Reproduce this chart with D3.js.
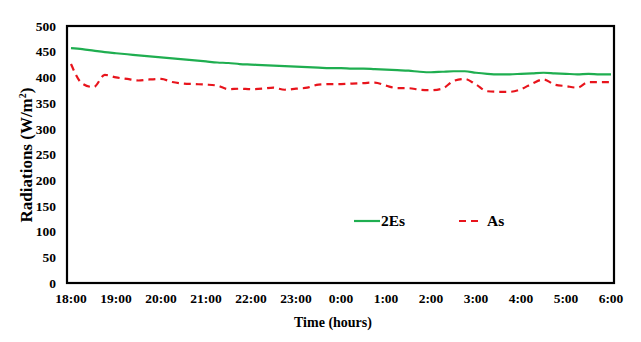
<!DOCTYPE html>
<html>
<head>
<meta charset="utf-8">
<script src="https://cdn.jsdelivr.net/npm/d3@7"></script>
<style>
  html, body { margin: 0; padding: 0; background: #fff; }
  svg { display: block; }
  text { font-family: "Liberation Serif", "Times New Roman", serif; font-weight: bold; fill: #000; }
</style>
</head>
<body>
<svg id="chart" width="641" height="342"></svg>
<script>
// Time in hours after 18:00 (15-minute steps)
const hours = [0,0.25,0.5,0.75,1,1.25,1.5,1.75,2,2.25,2.5,2.75,3,3.25,3.5,3.75,4,4.25,4.5,4.75,5,5.25,5.5,5.75,6,6.25,6.5,6.75,7,7.25,7.5,7.75,8,8.25,8.5,8.75,9,9.25,9.5,9.75,10,10.25,10.5,10.75,11,11.25,11.5,11.75,12];
const es2 = [457,455,452,449,447,445,443,441,439,437,435,433,431,429,428,426,425,424,423,422,421,420,419,418,418,417,417,416,415,414,413,411,410,411,412,412,409,407,406,406,407,408,409,408,407,406,407,406,406];
const as = [426,388,381,405,400,397,394,396,397,391,388,387,386,384,377,378,377,378,380,376,378,380,386,387,387,388,389,390,384,379,379,376,375,378,393,397,386,373,372,372,377,388,396,386,383,380,391,391,391];
const xTickLabels = ["18:00","19:00","20:00","21:00","22:00","23:00","0:00","1:00","2:00","3:00","4:00","5:00","6:00"];
const yTicks = [0,50,100,150,200,250,300,350,400,450,500];
const seriesNames = ["2Es","As"];

const svg = d3.select("#chart");
const plot = {left: 67, right: 614, top: 26, bottom: 283};

const x = d3.scaleLinear().domain([0, 12]).range([71, 611]);
const y = d3.scaleLinear().domain([0, 500]).range([plot.bottom, plot.top]);

// frame
svg.append("rect")
  .attr("x", plot.left).attr("y", plot.top)
  .attr("width", plot.right - plot.left).attr("height", plot.bottom - plot.top)
  .attr("fill", "none").attr("stroke", "#000").attr("stroke-width", 2.2);

// y axis labels
svg.append("g").selectAll("text").data(yTicks).join("text")
  .attr("x", 56).attr("y", d => y(d)).attr("dy", "0.35em")
  .attr("text-anchor", "end").style("font-size", "13.5px")
  .text(d => d);

// x axis labels
svg.append("g").selectAll("text").data(xTickLabels).join("text")
  .attr("x", (d, i) => x(i)).attr("y", 303)
  .attr("text-anchor", "middle").style("font-size", "13.5px")
  .text(d => d);

// axis titles
svg.append("text").attr("x", 333).attr("y", 327)
  .attr("text-anchor", "middle").style("font-size", "14px")
  .text("Time (hours)");
svg.append("text")
  .attr("transform", "translate(32,155) rotate(-90)")
  .attr("text-anchor", "middle").style("font-size", "17px")
  .html('Radiations (W/m<tspan dy="-6" style="font-size:10px">2</tspan><tspan dy="6">)</tspan>');

const line = d3.line().x((d, i) => x(hours[i])).y(d => y(d)).curve(d3.curveMonotoneX);

svg.append("path").datum(es2).attr("d", line)
  .attr("fill", "none").attr("stroke", "#1fae50").attr("stroke-width", 2.2);
svg.append("path").datum(as).attr("d", line)
  .attr("fill", "none").attr("stroke", "#e8141c").attr("stroke-width", 2.2)
  .attr("stroke-dasharray", "7,5");

// legend
const lg = svg.append("g");
lg.append("line").attr("x1", 354).attr("x2", 380).attr("y1", 221).attr("y2", 221)
  .attr("stroke", "#1fae50").attr("stroke-width", 2.2);
lg.append("text").attr("x", 381).attr("y", 221).attr("dy", "0.35em")
  .style("font-size", "15.5px").text(seriesNames[0]);
lg.append("line").attr("x1", 459).attr("x2", 481).attr("y1", 221).attr("y2", 221)
  .attr("stroke", "#e8141c").attr("stroke-width", 2.2).attr("stroke-dasharray", "7,5");
lg.append("text").attr("x", 487).attr("y", 221).attr("dy", "0.35em")
  .style("font-size", "15.5px").text(seriesNames[1]);
</script>
</body>
</html>
